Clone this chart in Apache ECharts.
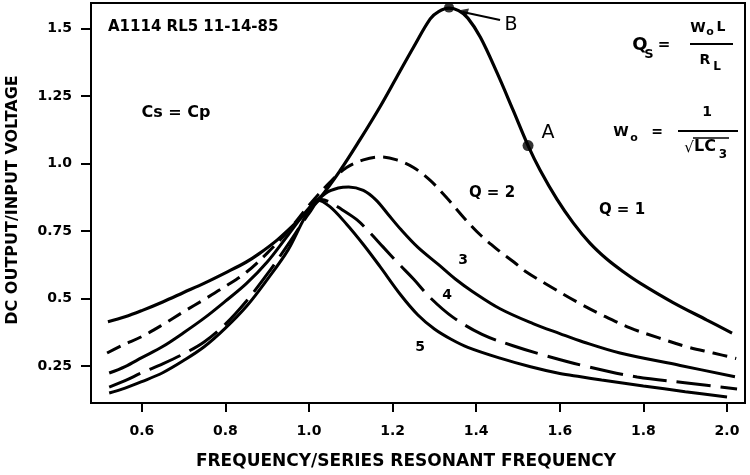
<!DOCTYPE html>
<html><head><meta charset="utf-8">
<script src="https://cdn.jsdelivr.net/npm/echarts@6/dist/echarts.min.js"></script>
<style>html,body{margin:0;padding:0;background:#fff}#c{width:750px;height:475px}</style>
</head><body><div id="c"></div>
<script>
const xTicks = [0.6, 0.8, 1.0, 1.2, 1.4, 1.6, 1.8, 2.0];
const yTicks = [0.25, 0.5, 0.75, 1.0, 1.25, 1.5];

const q1 = [[0.519,0.414],[0.56,0.432],[0.6,0.455],[0.65,0.487],[0.7,0.522],[0.75,0.557],[0.8,0.595],[0.85,0.635],[0.88,0.665],[0.925,0.718],[0.975,0.79],[1.026,0.872],[1.075,0.975],[1.122,1.088],[1.17,1.21],[1.21,1.32],[1.25,1.43],[1.29,1.535],[1.31,1.562],[1.335,1.575],[1.358,1.566],[1.38,1.538],[1.41,1.467],[1.45,1.335],[1.488,1.198],[1.524,1.066],[1.553,0.975],[1.593,0.868],[1.632,0.78],[1.672,0.705],[1.713,0.645],[1.751,0.6],[1.792,0.557],[1.871,0.485],[1.952,0.42],[2.012,0.372]];
const q2 = [[0.517,0.298],[0.555,0.328],[0.6,0.359],[0.65,0.403],[0.7,0.451],[0.75,0.497],[0.8,0.545],[0.85,0.597],[0.9,0.668],[0.95,0.75],[1.0,0.845],[1.05,0.93],[1.09,0.985],[1.13,1.013],[1.17,1.024],[1.21,1.013],[1.25,0.985],[1.29,0.937],[1.33,0.872],[1.37,0.8],[1.41,0.735],[1.45,0.682],[1.49,0.635],[1.52,0.598],[1.57,0.551],[1.64,0.488],[1.706,0.435],[1.768,0.391],[1.837,0.354],[1.902,0.322],[1.967,0.298],[2.022,0.278]];
const q3 = [[0.522,0.224],[0.56,0.248],[0.6,0.281],[0.65,0.322],[0.7,0.373],[0.75,0.428],[0.8,0.49],[0.85,0.555],[0.9,0.635],[0.95,0.735],[1.0,0.835],[1.04,0.89],[1.07,0.909],[1.095,0.913],[1.13,0.9],[1.16,0.865],[1.19,0.81],[1.22,0.755],[1.26,0.69],[1.31,0.625],[1.35,0.572],[1.39,0.527],[1.457,0.462],[1.536,0.407],[1.6,0.37],[1.656,0.339],[1.744,0.298],[1.888,0.252],[2.019,0.21]];
const q4 = [[0.522,0.172],[0.56,0.196],[0.6,0.225],[0.65,0.258],[0.7,0.295],[0.75,0.34],[0.8,0.405],[0.85,0.49],[0.9,0.59],[0.95,0.7],[1.0,0.815],[1.03,0.866],[1.05,0.857],[1.08,0.828],[1.115,0.791],[1.146,0.743],[1.177,0.691],[1.215,0.628],[1.25,0.572],[1.292,0.5],[1.344,0.431],[1.414,0.367],[1.488,0.325],[1.56,0.291],[1.665,0.248],[1.785,0.209],[1.904,0.187],[2.024,0.165]];
const q5 = [[0.522,0.15],[0.56,0.168],[0.6,0.192],[0.65,0.225],[0.7,0.27],[0.75,0.322],[0.8,0.39],[0.85,0.47],[0.9,0.57],[0.95,0.68],[0.99,0.8],[1.02,0.865],[1.05,0.84],[1.09,0.775],[1.13,0.7],[1.17,0.618],[1.22,0.512],[1.26,0.44],[1.3,0.387],[1.34,0.349],[1.38,0.319],[1.457,0.279],[1.53,0.247],[1.6,0.222],[1.65,0.21],[1.7,0.198],[1.8,0.176],[1.9,0.155],[2.0,0.135]];
const pointB = [[1.335, 1.577]];
const pointA = [[1.524, 1.066]];
const arrowB = [[1.368, 1.561]];
const leaderB = [[1.368, 1.561], [1.457, 1.531]];

const F = '"DejaVu Sans", sans-serif';
const chart = echarts.init(document.getElementById('c'), null, {renderer: 'canvas'});

function curve(data, dash, w) {
  return {
    type: 'line', data: data, smooth: 0.35, showSymbol: false, silent: true,
    lineStyle: {color: '#000', width: w, type: dash || 'solid', cap: 'butt'},
    z: 3
  };
}
function txt(text, x, y, size, opts) {
  opts = opts || {};
  return {
    type: 'text', x: x, y: y, rotation: opts.rot || 0, z: 10,
    style: {
      text: text, fill: '#000',
      font: (opts.weight || 'bold') + ' ' + size + 'px ' + F,
      textAlign: opts.align || 'center', textVerticalAlign: 'middle',
      align: opts.align || 'center', verticalAlign: 'middle'
    }
  };
}
function bar(x1, x2, y, w) {
  return {type: 'line', shape: {x1: x1, y1: y, x2: x2, y2: y}, style: {stroke: '#000', lineWidth: w || 2}, z: 10};
}

chart.setOption({
  animation: false,
  backgroundColor: '#fff',
  grid: {left: 91, top: 3, right: 5, bottom: 72, show: true, borderColor: '#000', borderWidth: 2, backgroundColor: 'transparent'},
  xAxis: {
    type: 'value', min: 0.4785, max: 2.043,
    axisLine: {show: true, lineStyle: {color: '#000', width: 2}},
    axisTick: {show: true, inside: false, length: 9, customValues: xTicks, lineStyle: {color: '#000', width: 2}},
    axisLabel: {show: true, customValues: xTicks, margin: 21, color: '#000', fontFamily: F, fontWeight: 'bold', fontSize: 14,
      formatter: v => Number(v).toFixed(1)},
    splitLine: {show: false}
  },
  yAxis: {
    type: 'value', min: 0.113, max: 1.594,
    axisLine: {show: true, lineStyle: {color: '#000', width: 2}},
    axisTick: {show: true, inside: false, length: 10, customValues: yTicks, lineStyle: {color: '#000', width: 2}},
    axisLabel: {show: true, customValues: yTicks, margin: 19, color: '#000', fontFamily: F, fontWeight: 'bold', fontSize: 14,
      formatter: v => (Math.abs(v - 1) < 1e-9 ? '1.0' : String(v))},
    splitLine: {show: false}
  },
  series: [
    curve(q1, 'solid', 3.2),
    curve(q2, [15, 8], 3),
    curve(q3, 'solid', 3),
    curve(q4, [34, 10], 3),
    curve(q5, 'solid', 3),
    {type: 'line', data: leaderB, showSymbol: false, silent: true, lineStyle: {color: '#000', width: 2}, z: 4},
    {type: 'scatter', data: pointB, symbol: 'circle', symbolSize: 10, itemStyle: {color: '#000'}, silent: true, z: 5},
    {type: 'scatter', data: arrowB, symbol: 'triangle', symbolSize: 10, symbolRotate: 75, itemStyle: {color: '#000'}, silent: true, z: 5},
    {type: 'scatter', data: pointA, symbol: 'circle', symbolSize: 11, itemStyle: {color: '#000'}, silent: true, z: 5}
  ],
  graphic: [
    txt('DC OUTPUT/INPUT VOLTAGE', 13, 200, 16, {rot: Math.PI / 2}),
    txt('FREQUENCY/SERIES RESONANT FREQUENCY', 406, 462, 17),
    txt('A1114 RL5 11-14-85', 108, 27, 15, {align: 'left'}),
    txt('Cs = Cp', 176, 113, 16),
    txt('B', 511, 25, 19, {weight: 'normal'}),
    txt('A', 548, 133, 19, {weight: 'normal'}),
    txt('Q = 2', 492, 193, 15),
    txt('Q = 1', 622, 210, 15),
    txt('3', 463, 260, 14),
    txt('4', 447, 295, 14),
    txt('5', 420, 347, 14),
    // Qs = WoL / RL
    txt('Q', 640, 45, 18),
    txt('S', 649, 55, 13),
    txt('=', 664, 45, 15),
    txt('W', 698, 28, 14),
    txt('o', 710, 32, 11),
    txt('L', 721, 27, 14),
    bar(690, 733, 44, 2),
    txt('R', 705, 60, 14),
    txt('L', 717, 67, 12),
    // Wo = 1 / sqrt(LC3)
    txt('W', 621, 132, 14),
    txt('o', 634, 138, 11),
    txt('=', 657, 132, 14),
    txt('1', 707, 112, 14),
    bar(678, 738, 131, 2),
    txt('√', 689, 148, 15, {weight: 'normal'}),
    txt('LC', 694, 147, 16, {align: 'left'}),
    txt('3', 723, 155, 12),
    bar(693, 729, 138, 1.5)
  ]
});
</script></body></html>
